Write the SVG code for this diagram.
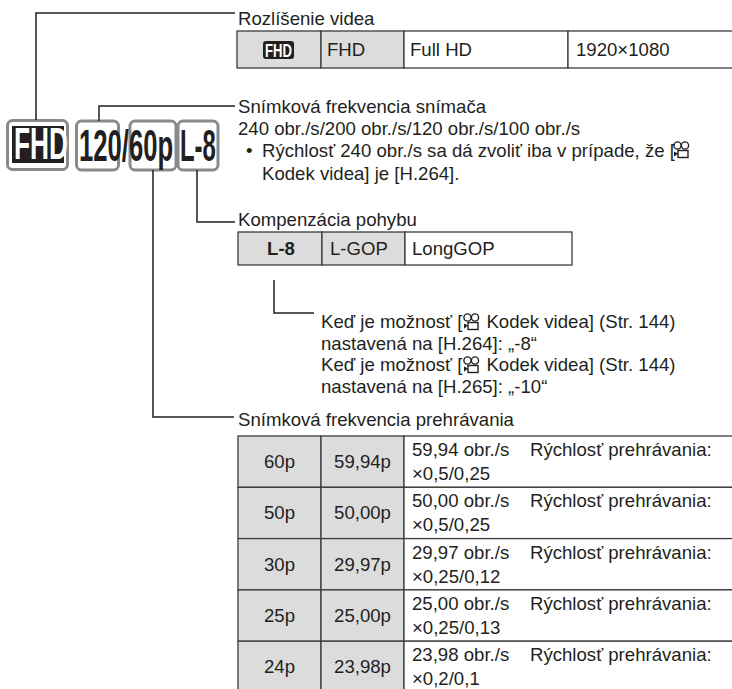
<svg xmlns="http://www.w3.org/2000/svg" width="732" height="689" viewBox="0 0 732 689">
<style>
  .t { font-family: "Liberation Sans", Arial, sans-serif; font-size: 18.6px; fill: #231f20; }
  .b { font-weight: bold; }
  .big { font-family: "Liberation Sans", Arial, sans-serif; font-weight: bold; font-size: 45px; fill: #231f20; }
  .gray { fill: #dcdcdc; stroke: #3c3c3c; stroke-width: 1.3; }
  .white { fill: #ffffff; stroke: #3c3c3c; stroke-width: 1.3; }
  .frame { fill: #ffffff; stroke: #8a8a8a; stroke-width: 3; }
  .conn path { fill: none; stroke: #231f20; stroke-width: 1.5; }
  .c { text-anchor: middle; }
</style>
<defs>
  <g id="mov">
    <circle cx="4.5" cy="4.5" r="3.6" fill="none" stroke="#231f20" stroke-width="1.4"/>
    <circle cx="12" cy="4.5" r="3.6" fill="none" stroke="#231f20" stroke-width="1.4"/>
    <rect x="5" y="9.5" width="10" height="7" fill="none" stroke="#231f20" stroke-width="1.4"/>
    <polygon points="1,10.5 5,12.5 1,15.8" fill="#231f20"/>
  </g>
</defs>
<rect width="732" height="689" fill="#ffffff"/>

<g id="icons">
  <rect class="frame" x="7.5" y="120.5" width="60" height="49" rx="5"/>
  <rect x="12" y="126" width="52" height="37" fill="#231f20"/>
  <text class="big" transform="translate(14,159) scale(0.584,1)" font-size="40" style="fill:#ffffff">FHD</text>
  <rect class="frame" x="76.5" y="121" width="42" height="49" rx="5"/>
  <rect class="frame" x="130" y="121" width="46" height="49" rx="5"/>
  <rect class="frame" x="178" y="121" width="40" height="49" rx="5"/>
  <text class="big" transform="translate(79,161) scale(0.57,1)">120/60p</text>
  <text class="big" transform="translate(180,161) scale(0.53,1)">L-8</text>
</g>

<g class="conn" id="connectors">
  <path d="M36,120 V13 H235"/>
  <path d="M99,121 V106 H235"/>
  <path d="M197,170 V222 H235"/>
  <path d="M153,170 V417 H234"/>
  <path d="M274,280 V313 H314"/>
</g>

<g id="resolution">
  <text class="t" x="238" y="25">Rozlíšenie videa</text>
  <rect class="gray" x="237" y="31" width="84" height="37"/>
  <rect class="gray" x="321" y="31" width="83" height="37"/>
  <rect class="white" x="404" y="31" width="164" height="37"/>
  <rect class="white" x="568" y="31" width="180" height="37"/>
  <rect x="263" y="41" width="31" height="18" rx="3" fill="#231f20"/>
  <text class="t b" x="265" y="57" style="fill:#ffffff" textLength="27" lengthAdjust="spacingAndGlyphs">FHD</text>
  <text class="t" x="327" y="56">FHD</text>
  <text class="t" x="410" y="56">Full HD</text>
  <text class="t" x="576" y="56">1920×1080</text>
</g>

<g id="sensor-rate">
  <text class="t" x="238" y="113">Snímková frekvencia snímača</text>
  <text class="t" x="238" y="135">240 obr./s/200 obr./s/120 obr./s/100 obr./s</text>
  <text class="t" x="246" y="157">•</text>
  <text class="t" x="262" y="157">Rýchlosť 240 obr./s sa dá zvoliť iba v prípade, že [</text>
  <use href="#mov" x="673" y="141"/>
  <text class="t" x="262" y="180">Kodek videa] je [H.264].</text>
</g>

<g id="motion">
  <text class="t" x="238" y="226">Kompenzácia pohybu</text>
  <rect class="gray" x="238" y="232" width="84" height="33"/>
  <rect class="gray" x="322" y="232" width="83" height="33"/>
  <rect class="white" x="405" y="232" width="167" height="33"/>
  <text class="t b c" x="281" y="255">L-8</text>
  <text class="t" x="330" y="255">L-GOP</text>
  <text class="t" x="412" y="255">LongGOP</text>
</g>

<g id="gop-note">
  <text class="t" x="321" y="328">Keď je možnosť [<tspan dx="24">Kodek videa] (Str. 144)</tspan></text>
  <use href="#mov" x="463" y="313"/>
  <text class="t" x="321" y="350">nastavená na [H.264]: „-8“</text>
  <text class="t" x="321" y="371">Keď je možnosť [<tspan dx="24">Kodek videa] (Str. 144)</tspan></text>
  <use href="#mov" x="463" y="356"/>
  <text class="t" x="321" y="393">nastavená na [H.265]: „-10“</text>
</g>

<g id="playback">
  <text class="t" x="238" y="426">Snímková frekvencia prehrávania</text>
  <g>
    <rect class="gray" x="238" y="436" width="83" height="51.3"/>
    <rect class="gray" x="321" y="436" width="83" height="51.3"/>
    <rect class="white" x="404" y="436" width="344" height="51.3"/>
    <text class="t c" x="279.5" y="468">60p</text>
    <text class="t c" x="362.5" y="468">59,94p</text>
    <text class="t" x="412" y="456">59,94 obr./s</text>
    <text class="t" x="530" y="456">Rýchlosť prehrávania:</text>
    <text class="t" x="412" y="480">×0,5/0,25</text>
  </g>
  <g>
    <rect class="gray" x="238" y="487.3" width="83" height="51.3"/>
    <rect class="gray" x="321" y="487.3" width="83" height="51.3"/>
    <rect class="white" x="404" y="487.3" width="344" height="51.3"/>
    <text class="t c" x="279.5" y="519.3">50p</text>
    <text class="t c" x="362.5" y="519.3">50,00p</text>
    <text class="t" x="412" y="507.3">50,00 obr./s</text>
    <text class="t" x="530" y="507.3">Rýchlosť prehrávania:</text>
    <text class="t" x="412" y="531.3">×0,5/0,25</text>
  </g>
  <g>
    <rect class="gray" x="238" y="538.6" width="83" height="51.3"/>
    <rect class="gray" x="321" y="538.6" width="83" height="51.3"/>
    <rect class="white" x="404" y="538.6" width="344" height="51.3"/>
    <text class="t c" x="279.5" y="570.6">30p</text>
    <text class="t c" x="362.5" y="570.6">29,97p</text>
    <text class="t" x="412" y="558.6">29,97 obr./s</text>
    <text class="t" x="530" y="558.6">Rýchlosť prehrávania:</text>
    <text class="t" x="412" y="582.6">×0,25/0,12</text>
  </g>
  <g>
    <rect class="gray" x="238" y="589.9" width="83" height="51.3"/>
    <rect class="gray" x="321" y="589.9" width="83" height="51.3"/>
    <rect class="white" x="404" y="589.9" width="344" height="51.3"/>
    <text class="t c" x="279.5" y="621.9">25p</text>
    <text class="t c" x="362.5" y="621.9">25,00p</text>
    <text class="t" x="412" y="609.9">25,00 obr./s</text>
    <text class="t" x="530" y="609.9">Rýchlosť prehrávania:</text>
    <text class="t" x="412" y="633.9">×0,25/0,13</text>
  </g>
  <g>
    <rect class="gray" x="238" y="641.2" width="83" height="60"/>
    <rect class="gray" x="321" y="641.2" width="83" height="60"/>
    <rect class="white" x="404" y="641.2" width="344" height="60"/>
    <text class="t c" x="279.5" y="673.2">24p</text>
    <text class="t c" x="362.5" y="673.2">23,98p</text>
    <text class="t" x="412" y="661.2">23,98 obr./s</text>
    <text class="t" x="530" y="661.2">Rýchlosť prehrávania:</text>
    <text class="t" x="412" y="685.2">×0,2/0,1</text>
  </g>
</g>
</svg>
